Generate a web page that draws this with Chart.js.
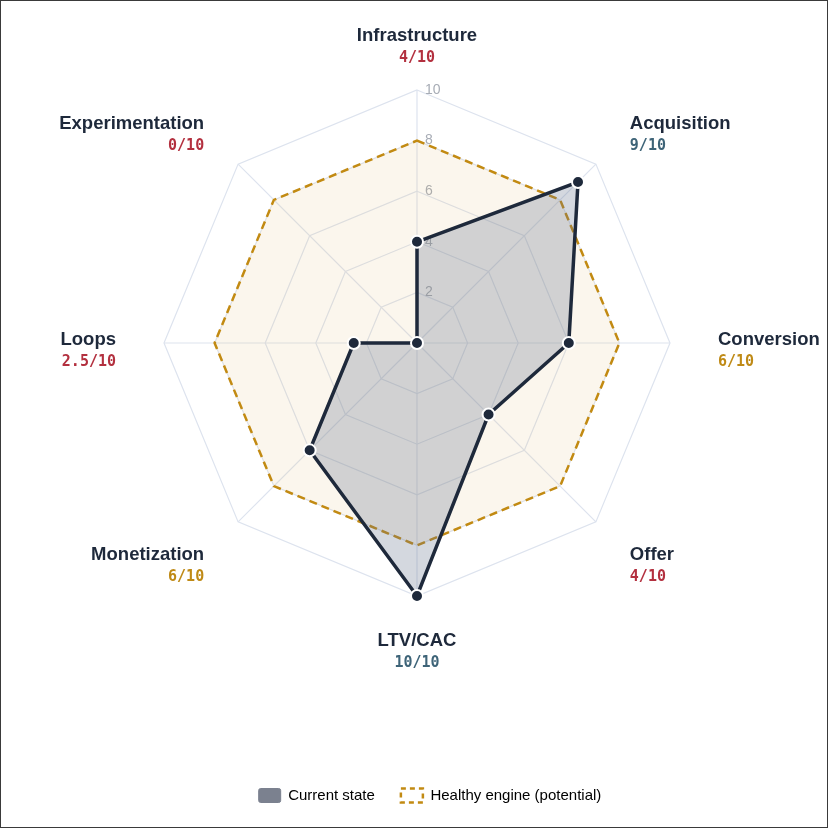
<!DOCTYPE html>
<html>
<head>
<meta charset="utf-8">
<script src="https://cdn.jsdelivr.net/npm/chart.js@4.4.1/dist/chart.umd.min.js"></script>
<style>
    html, body { margin: 0; padding: 0; background: #fff; }
    #wrap { width: 828px; height: 828px; box-sizing: border-box; border: 1px solid #3a3a3a; position: relative; }
</style>
</head>
<body>
<div id="wrap"><canvas id="radarChart"></canvas></div>
<script>
const categories = ['Infrastructure', 'Acquisition', 'Conversion', 'Offer', 'LTV/CAC', 'Monetization', 'Loops', 'Experimentation'];
const currentScores = [4, 9, 6, 4, 10, 6, 2.5, 0];
const healthyScores = [8, 8, 8, 8, 8, 8, 8, 8];
const tickValues = [2, 4, 6, 8, 10];
const scoreMax = 10;

const NAVY = '#1e293b';
const GOLD = '#c28a12';
const FONT = '"Liberation Sans", Arial, Helvetica, sans-serif';

function scoreColor(v) {
    if (v >= 8) return '#3e6478';
    if (v >= 5) return '#bf8a16';
    return '#b3303f';
}

// radar geometry (canvas px)
const CENTER_X = 416, CENTER_Y = 342, RADIUS = 253;

// tick numbers: left aligned just right of the vertical axis, under the datasets
const tickPlugin = {
    id: 'tickLabels',
    beforeDatasetsDraw(chart) {
        const scale = chart.scales.r;
        const ctx = chart.ctx;
        ctx.save();
        ctx.font = '14px ' + FONT;
        ctx.fillStyle = '#a7acb5';
        ctx.textAlign = 'left';
        ctx.textBaseline = 'middle';
        tickValues.forEach(function (v) {
            const d = scale.getDistanceFromCenterForValue(v);
            ctx.fillText(String(v), scale.xCenter + 8, scale.yCenter - d);
        });
        ctx.restore();
    }
};

// two-line point labels: bold name + monospace score
const labelPlugin = {
    id: 'twoLineLabels',
    afterDraw(chart) {
        const scale = chart.scales.r;
        const ctx = chart.ctx;
        const lh = 22;
        ctx.save();
        ctx.textBaseline = 'middle';
        categories.forEach(function (name, i) {
            const p = scale.getPointPosition(i, scale.drawingArea + 48);
            const dx = p.x - scale.xCenter;
            const dy = p.y - scale.yCenter;
            let align = 'center';
            if (dx > 5) align = 'left';
            else if (dx < -5) align = 'right';
            ctx.textAlign = align;
            let shift = 5;
            if (dy > -5) shift = 8;
            if (dy > 5 && Math.abs(dx) > 5) shift = 10;
            const yc = p.y + shift;
            ctx.fillStyle = NAVY;
            ctx.font = 'bold 18.5px ' + FONT;
            ctx.fillText(name, p.x, yc - lh / 2);
            ctx.fillStyle = scoreColor(currentScores[i]);
            ctx.font = 'bold 15px "DejaVu Sans Mono", monospace';
            ctx.fillText(currentScores[i] + '/' + scoreMax, p.x, yc + lh / 2);
        });
        ctx.restore();
    }
};

const ctx = document.getElementById('radarChart').getContext('2d');
const chartInstance = new Chart(ctx, {
    type: 'radar',
    data: {
        labels: categories,
        datasets: [{
            label: 'Current state',
            data: currentScores,
            backgroundColor: 'rgba(100, 116, 139, 0.28)',
            borderColor: NAVY,
            borderWidth: 3.5,
            pointBackgroundColor: NAVY,
            pointBorderColor: '#fff',
            pointBorderWidth: 2,
            pointRadius: 6,
            order: 1
        }, {
            label: 'Healthy engine (potential)',
            data: healthyScores,
            backgroundColor: 'rgba(222, 180, 110, 0.12)',
            borderColor: GOLD,
            borderWidth: 2.5,
            borderDash: [8, 5],
            pointRadius: 0,
            order: 2
        }]
    },
    options: {
        responsive: true,
        maintainAspectRatio: false,
        animation: false,
        layout: { padding: { top: 10, bottom: 14, left: 42, right: 10 } },
        scales: {
            r: {
                min: 0,
                max: scoreMax,
                ticks: { stepSize: 2, display: false },
                grid: { color: '#dde3ee', lineWidth: 1.2 },
                angleLines: { color: '#dde3ee', lineWidth: 1.2 },
                pointLabels: { display: false },
                afterFit: function (scale) {
                    scale.xCenter = CENTER_X;
                    scale.yCenter = CENTER_Y;
                    scale.drawingArea = RADIUS;
                }
            }
        },
        plugins: {
            legend: {
                position: 'bottom',
                labels: {
                    boxWidth: 22,
                    boxHeight: 14,
                    padding: 26,
                    color: '#6b7280',
                    font: { size: 15, family: FONT },
                    generateLabels: function (chart) {
                        return [{
                            text: 'Current state',
                            fillStyle: '#7b818f',
                            strokeStyle: '#7b818f',
                            lineWidth: 1,
                            borderRadius: 2,
                            datasetIndex: 0,
                            hidden: !chart.isDatasetVisible(0)
                        }, {
                            text: 'Healthy engine (potential)',
                            fillStyle: 'rgba(0, 0, 0, 0)',
                            strokeStyle: GOLD,
                            lineWidth: 2.5,
                            lineDash: [5, 4],
                            datasetIndex: 1,
                            hidden: !chart.isDatasetVisible(1)
                        }];
                    }
                }
            },
            tooltip: { enabled: false }
        }
    },
    plugins: [tickPlugin, labelPlugin]
});
</script>
</body>
</html>
